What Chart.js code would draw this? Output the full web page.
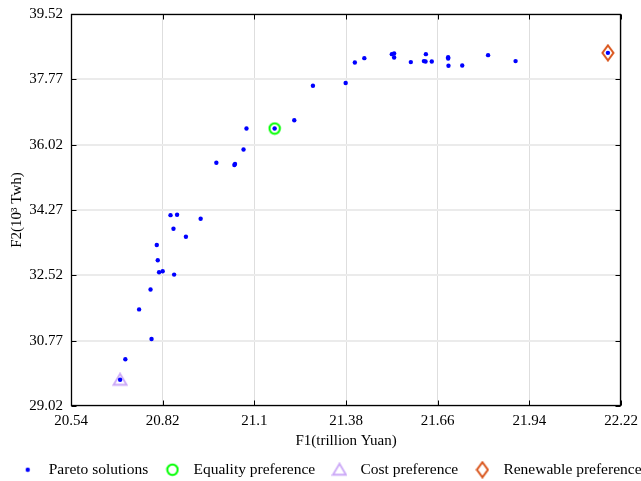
<!DOCTYPE html>
<html>
<head>
<meta charset="utf-8">
<script src="https://cdn.jsdelivr.net/npm/chart.js@4/dist/chart.umd.min.js"></script>
<style>
html,body{margin:0;padding:0;background:#fff;}
#wrap{width:641px;height:481px;position:relative;}
</style>
</head>
<body>
<div id="wrap"><canvas id="c" width="641" height="481"></canvas></div>
<script>
const paretoF1 = [20.690,20.706,20.786,20.748,20.783,20.809,20.820,20.855,20.805,20.802,20.891,20.853,20.844,20.864,20.936,
  20.984,21.039,21.041,21.067,21.076,21.162,21.222,21.279,21.379,21.407,21.436,21.520,21.527,21.527,21.578,
  21.618,21.623,21.624,21.642,21.692,21.692,21.693,21.735,21.814,21.898,22.180];
const paretoF2 = [29.722,30.273,30.816,31.607,32.140,32.603,32.630,32.540,32.923,33.332,33.554,33.768,34.132,34.141,34.034,
  35.537,35.475,35.501,35.892,36.453,36.453,36.675,37.600,37.671,38.222,38.337,38.444,38.462,38.355,38.231,
  38.258,38.249,38.444,38.249,38.364,38.329,38.133,38.142,38.418,38.258,38.480];
const equalityF1 = [21.162], equalityF2 = [36.453];
const costF1 = [20.690], costF2 = [29.722];
const renewableF1 = [22.180], renewableF2 = [38.480];
const xTickLabels = ['20.54','20.82','21.1','21.38','21.66','21.94','22.22'];
const yTickLabels = ['29.02','30.77','32.52','34.27','36.02','37.77','39.52'];
const seriesNames = ['Pareto solutions','Equality preference','Cost preference','Renewable preference'];

const xTicks = xTickLabels.map(Number), yTicks = yTickLabels.map(Number);
const toPts = (a,b) => a.map((v,i)=>({x:v,y:b[i]}));

const FONT = "'Liberation Serif','Times New Roman',serif";
const BLUE = '#0000ff', GREEN = '#00ff00', PURPLE = '#cba8f7', ORANGE = '#d95319';

function mk(w,h,draw){const c=document.createElement('canvas');c.width=w;c.height=h;const g=c.getContext('2d');draw(g,w,h);return c;}
const dotImg = mk(6,6,(g)=>{g.fillStyle=BLUE;g.beginPath();g.arc(3,3,2.2,0,Math.PI*2);g.fill();});
const circImg = mk(14,14,(g)=>{g.strokeStyle=GREEN;g.lineWidth=2;g.beginPath();g.arc(7,7,5.2,0,Math.PI*2);g.stroke();});
const triImg = mk(16,15,(g)=>{g.strokeStyle=PURPLE;g.lineWidth=1.8;g.beginPath();g.moveTo(8,1.5);g.lineTo(14.5,12.5);g.lineTo(1.5,12.5);g.closePath();g.stroke();});
const diaImg = mk(14,18,(g)=>{g.strokeStyle=ORANGE;g.lineWidth=2;g.beginPath();g.moveTo(7,1.5);g.lineTo(12.5,9);g.lineTo(7,16.5);g.lineTo(1.5,9);g.closePath();g.stroke();});
const legendImgs = [dotImg, circImg, triImg, diaImg];

const frame = {
  id:'frame',
  afterDraw(chart){
    const {ctx, chartArea:a, scales} = chart;
    ctx.save();
    ctx.strokeStyle='#000'; ctx.lineWidth=1;
    const L=Math.round(a.left)+0.5, R=Math.round(a.right)-0.5, T=Math.round(a.top)+0.5, B=Math.round(a.bottom)-0.5;
    ctx.beginPath();
    xTicks.forEach(v=>{const p=Math.round(scales.x.getPixelForValue(v))+0.5; ctx.moveTo(p,B); ctx.lineTo(p,B-5); ctx.moveTo(p,T); ctx.lineTo(p,T+5);});
    yTicks.forEach(v=>{const p=Math.round(scales.y.getPixelForValue(v))+0.5; ctx.moveTo(L,p); ctx.lineTo(L+5,p); ctx.moveTo(R,p); ctx.lineTo(R-5,p);});
    ctx.stroke();
    ctx.lineWidth=1.3;
    ctx.strokeRect(L,T,R-L,B-T);
    ctx.restore();
  }
};

new Chart(document.getElementById('c'), {
  type:'scatter',
  data:{datasets:[
    {label:seriesNames[0], data:toPts(paretoF1,paretoF2), pointStyle:'circle', pointRadius:2.2, pointHoverRadius:2.2, backgroundColor:BLUE, borderColor:BLUE, borderWidth:0, order:1},
    {label:seriesNames[1], data:toPts(equalityF1,equalityF2), pointStyle:circImg, pointRadius:6, order:2},
    {label:seriesNames[2], data:toPts(costF1,costF2), pointStyle:triImg, pointRadius:6, order:2},
    {label:seriesNames[3], data:toPts(renewableF1,renewableF2), pointStyle:diaImg, pointRadius:6, order:2}
  ]},
  options:{
    responsive:false, animation:false, devicePixelRatio:1,
    layout:{padding:{top:14,left:0,right:-15,bottom:0}},
    plugins:{
      tooltip:{enabled:false},
      legend:{
        position:'bottom', maxHeight:30,
        labels:{
          usePointStyle:true, pointStyleWidth:26.5, padding:11, color:'#000',
          font:{family:FONT,size:15.5},
          generateLabels:(chart)=>chart.data.datasets.map((d,i)=>({text:d.label, pointStyle:legendImgs[i], datasetIndex:i, hidden:false, fontColor:'#000', fillStyle:'#000', strokeStyle:'#000', lineWidth:0}))
        }
      }
    },
    scales:{
      x:{type:'linear', position:'bottom', min:20.54, max:22.22,
        afterBuildTicks:(ax)=>{ax.ticks=xTicks.map(v=>({value:v}));},
        afterFit:(ax)=>{ax.height=45; ax.paddingLeft=0; ax.paddingRight=0;},
        ticks:{callback:(v,i)=>xTickLabels[i], color:'#000', font:{family:FONT,size:15}, padding:6, maxRotation:0, autoSkip:false},
        grid:{color:'#dedede', lineWidth:1, drawTicks:false},
        border:{display:false},
        title:{display:true, text:'F1(trillion Yuan)', color:'#000', font:{family:FONT,size:15}, padding:{top:0,bottom:1}}
      },
      y:{type:'linear', position:'left', min:29.02, max:39.52,
        afterBuildTicks:(ax)=>{ax.ticks=yTicks.map(v=>({value:v}));},
        afterFit:(ax)=>{ax.width=71; ax.paddingTop=0; ax.paddingBottom=0;},
        ticks:{callback:(v,i)=>yTickLabels[i], color:'#000', font:{family:FONT,size:15}, padding:8, autoSkip:false},
        grid:{color:'#ebebeb', lineWidth:2, drawTicks:false},
        border:{display:false},
        title:{display:true, text:'F2(10³ Twh)', color:'#000', font:{family:FONT,size:15}, padding:{top:8,bottom:0}}
      },
      y2:{type:'linear', position:'right', min:29.02, max:39.52,
        afterFit:(ax)=>{ax.width=35; ax.paddingTop=0; ax.paddingBottom=0;},
        ticks:{display:false}, grid:{display:false, drawTicks:false}, border:{display:false}
      }
    }
  },
  plugins:[frame]
});
</script>
</body>
</html>
